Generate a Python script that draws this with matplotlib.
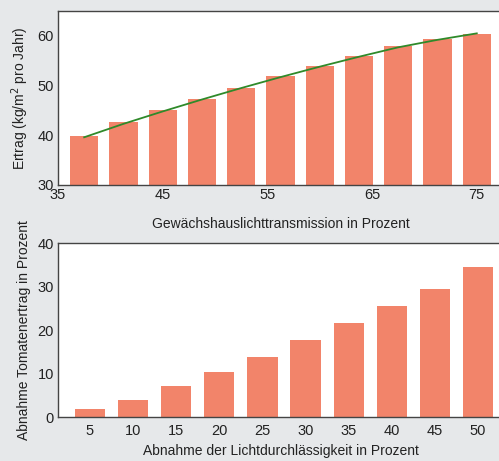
"""Tomatenertrag vs. Lichttransmission — zwei Balkendiagramme

Output: out.png
"""
import matplotlib.pyplot as plt
from matplotlib import rcParams

rcParams["font.family"] = ["Liberation Sans", "DejaVu Sans"]

# Oben: Ertrag je Gewächshauslichttransmission
TRANS = [37.5, 41.25, 45, 48.75, 52.5, 56.25, 60, 63.75, 67.5, 71.25, 75]
ERTRAG = [39.8, 42.6, 45.0, 47.2, 49.6, 51.9, 53.9, 56.0, 58.0, 59.3, 60.4]
TREND = [39.6, 42.3, 44.8, 47.2, 49.5, 51.7, 53.8, 55.8, 57.7, 59.2, 60.5]
TOP_TICKS = [35, 45, 55, 65, 75]

# Unten: Ertragsabnahme je Abnahme der Lichtdurchlässigkeit
ABNAHME_LICHT = [5, 10, 15, 20, 25, 30, 35, 40, 45, 50]
ABNAHME_ERTRAG = [1.8, 3.8, 7.2, 10.4, 13.9, 17.8, 21.5, 25.5, 29.5, 34.5]

BAR = "#f2846a"
LINE = "#2f8a2a"
BG = "#e6e8ea"
TXT = "#222222"

W, H = 499, 461
fig = plt.figure(figsize=(W / 100, H / 100), dpi=100, facecolor=BG)


def px_axes(left, top, right, bottom):
    return fig.add_axes([left / W, 1 - bottom / H, (right - left) / W, (bottom - top) / H])


# --- oberes Diagramm ---
ax1 = px_axes(58, 11, 504, 185)
ax1.bar(TRANS, ERTRAG, width=2.7, color=BAR, edgecolor="none", zorder=2)
ax1.plot(TRANS, TREND, color=LINE, linewidth=1.3, zorder=3)
ax1.set_xlim(35, 77.6)
ax1.set_ylim(30, 65)
ax1.set_xticks(TOP_TICKS)
ax1.set_yticks([30, 40, 50, 60])
ax1.set_xlabel("Gewächshauslichttransmission in Prozent", fontsize=10,
               color=TXT, labelpad=11)
ax1.set_ylabel("Ertrag (kg/m$^2$ pro Jahr)", fontsize=10, color=TXT, labelpad=5)

# --- unteres Diagramm ---
ax2 = px_axes(58, 243, 504, 417)
ax2.bar(ABNAHME_LICHT, ABNAHME_ERTRAG, width=3.5, color=BAR, edgecolor="none", zorder=2)
ax2.set_xlim(1.3, 53.0)
ax2.set_ylim(0, 40)
ax2.set_xticks(ABNAHME_LICHT)
ax2.set_yticks([0, 10, 20, 30, 40])
ax2.set_xlabel("Abnahme der Lichtdurchlässigkeit in Prozent", fontsize=10,
               color=TXT, labelpad=4)
ax2.set_ylabel("Abnahme Tomatenertrag in Prozent", fontsize=10, color=TXT, labelpad=5)

for ax in (ax1, ax2):
    ax.set_facecolor("white")
    for s in ax.spines.values():
        s.set_color("#444444")
        s.set_linewidth(1.0)
    ax.tick_params(length=0, labelsize=10.5, colors=TXT, pad=3)

ax1.tick_params(axis="x", pad=2)
ax2.tick_params(axis="x", pad=5)

fig.savefig("out.png", dpi=100, facecolor=BG)
